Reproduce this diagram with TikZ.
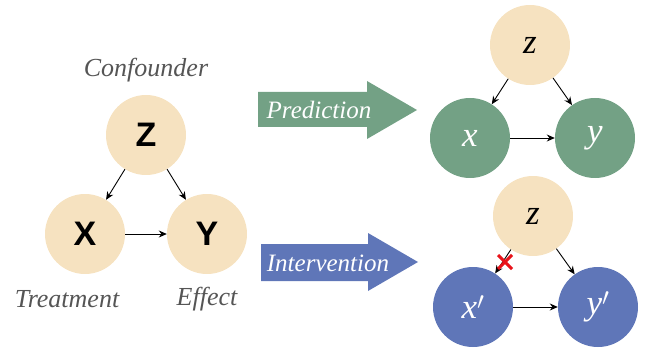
\documentclass[tikz,border=0pt]{standalone}
\usepackage{fontspec}
\setmainfont{Liberation Serif}
\newfontfamily\boldsans{Liberation Sans}
\usetikzlibrary{arrows.meta}
\definecolor{beige}{HTML}{F6E2C0}
\definecolor{sgreen}{HTML}{73A185}
\definecolor{sblue}{HTML}{5F76B8}
\definecolor{lgray}{HTML}{555555}
\definecolor{xred}{HTML}{E8131A}
\tikzset{
  circ/.style={circle, minimum size=80pt, inner sep=0pt},
  bnode/.style={circ, fill=beige},
  gnode/.style={circ, fill=sgreen, text=white},
  unode/.style={circ, fill=sblue, text=white},
  bigl/.style={font=\boldsans\bfseries\fontsize{34}{34}\selectfont},
  mathl/.style={font=\itshape\fontsize{35}{35}\selectfont},
  lab/.style={font=\itshape\fontsize{26}{26}\selectfont, text=lgray},
  arr/.style={-{Stealth[length=8pt,width=7pt]}, line width=0.9pt},
  albl/.style={font=\itshape\fontsize{25}{25}\selectfont, text=white},
}
\begin{document}
\begin{tikzpicture}[x=1pt,y=-1pt]
\useasboundingbox (0,0) rectangle (648,350);
% left
\node[bnode,bigl] (Z) at (146,135) {Z};
\node[bnode,bigl] (X) at (85,234) {X};
\node[bnode,bigl] (Y) at (207,234) {Y};
\node[lab] (conf) at (146,70) {Confounder};
\node[lab] (treat) at (67,299) {Treatment};
\node[lab] (eff) at (207,299) {Effect};
\draw[arr] (Z) -- (X);
\draw[arr] (Z) -- (Y);
\draw[arr] (X) -- (Y);
% big arrows
\fill[sgreen] (258,92) -- (367,92) -- (367,81) -- (417,110) -- (367,139) -- (367,127) -- (258,127) -- cycle;
\node[albl] (pred) at (319,110) {Prediction};
\fill[sblue] (261,244) -- (368,244) -- (368,233) -- (418,262) -- (368,291) -- (368,281) -- (261,281) -- cycle;
\node[albl] (interv) at (328,263) {Intervention};
% right top
\node[bnode,mathl] (z1) at (530,45) {z};
\node[gnode,mathl] (x1) at (470,138) {x};
\node[gnode,mathl] (y1) at (595,138) {y};
\draw[arr] (z1) -- (x1);
\draw[arr] (z1) -- (y1);
\draw[arr] (x1) -- (y1);
% right bottom
\node[bnode,mathl] (z2) at (533,216) {z};
\node[unode,mathl] (x2) at (473,307) {x$'$};
\node[unode,mathl] (y2) at (598,307) {y$'$};
\draw[arr] (z2) -- (x2);
\draw[arr] (z2) -- (y2);
\draw[arr] (x2) -- (y2);
\coordinate (cr) at (505,262);
\draw[xred, line width=3pt] ([shift={(-7,-7)}]cr) -- ([shift={(7,7)}]cr);
\draw[xred, line width=3pt] ([shift={(-7,7)}]cr) -- ([shift={(7,-7)}]cr);
\end{tikzpicture}
\end{document}
